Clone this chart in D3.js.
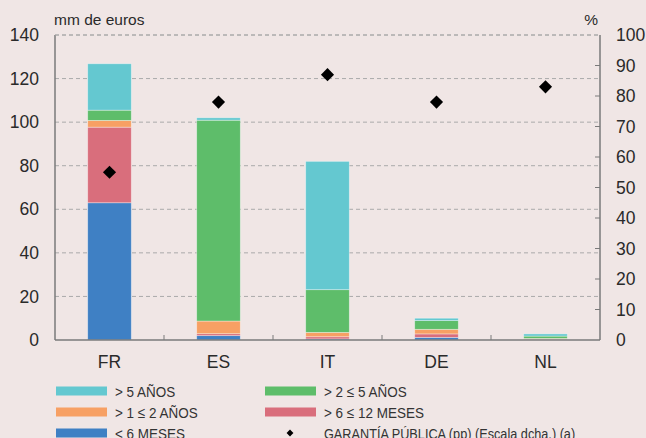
<!DOCTYPE html>
<html>
<head>
<meta charset="utf-8">
<script src="https://cdn.jsdelivr.net/npm/d3@7"></script>
<style>
	body { margin: 0; background: #f0e6e5; }
	svg { display: block; font-family: "Liberation Sans", Arial, sans-serif; }
</style>
</head>
<body>
<svg id="chart" width="646" height="438"></svg>
<script>
var countries = ["FR", "ES", "IT", "DE", "NL"];
// importes en mm de euros, de abajo a arriba
var menos6Meses = [63.0, 2.0, 0.5, 1.2, 0.2];
var de6a12Meses = [34.7, 0.9, 1.0, 1.6, 0.2];
var de1a2Anos = [3.1, 5.8, 2.0, 2.1, 0.3];
var de2a5Anos = [4.7, 92.2, 19.6, 4.0, 1.1];
var mas5Anos = [21.3, 1.1, 58.9, 1.1, 1.0];
// garantía pública, escala derecha (%)
var garantia = [55, 78, 87, 78, 83];

var leftTicks = [0, 20, 40, 60, 80, 100, 120, 140];
var rightTicks = [0, 10, 20, 30, 40, 50, 60, 70, 80, 90, 100];

var series = [
	{ key: "m6", name: "< 6 MESES", values: menos6Meses, color: "#3f80c4" },
	{ key: "m12", name: "> 6 \u2264 12 MESES", values: de6a12Meses, color: "#d96e7c" },
	{ key: "a2", name: "> 1 \u2264 2 A\u00d1OS", values: de1a2Anos, color: "#f7a064" },
	{ key: "a5", name: "> 2 \u2264 5 A\u00d1OS", values: de2a5Anos, color: "#5ebd6a" },
	{ key: "a5p", name: "> 5 A\u00d1OS", values: mas5Anos, color: "#64c8d0" }
];

var margin = {top: 35, right: 46, bottom: 98, left: 55},
	width = 646 - margin.left - margin.right,
	height = 438 - margin.top - margin.bottom;

var svg = d3.select("#chart");
var g = svg.append("g")
	.attr("transform", "translate(" + margin.left + "," + margin.top + ")");

var x = d3.scaleBand().domain(countries).range([0, width]).paddingInner(0.6).paddingOuter(0.3);
var xStep = d3.scaleBand().domain(countries).range([0, width]);
var y = d3.scaleLinear().domain([0, 140]).range([height, 0]);
var y2 = d3.scaleLinear().domain([0, 100]).range([height, 0]);

//  gridlines
g.selectAll(".grid")
	.data(leftTicks.filter(function(d) { return d > 0; }))
	.enter().append("line")
	.attr("class", "grid")
	.attr("x1", 0).attr("x2", width)
	.attr("y1", function(d) { return y(d); })
	.attr("y2", function(d) { return y(d); })
	.attr("stroke", "#aaa")
	.attr("stroke-width", 1)
	.attr("stroke-dasharray", "4,3");

//  stacked bars
var rows = countries.map(function(c, i) {
	var row = {country: c};
	series.forEach(function(s) { row[s.key] = s.values[i]; });
	return row;
});
var stacked = d3.stack().keys(series.map(function(s) { return s.key; }))(rows);

g.selectAll(".layer")
	.data(stacked)
	.enter().append("g")
	.attr("class", "layer")
	.attr("fill", function(d, i) { return series[i].color; })
	.selectAll("rect")
	.data(function(d) { return d; })
	.enter().append("rect")
	.attr("x", function(d) { return x(d.data.country); })
	.attr("width", x.bandwidth())
	.attr("y", function(d) { return y(d[1]); })
	.attr("height", function(d) { return y(d[0]) - y(d[1]); })
	.attr("stroke", "rgba(255,255,255,0.45)")
	.attr("stroke-width", 0.8);

//  frame: left, bottom, right solid; top dashed
g.append("line").attr("x1", 0).attr("x2", 0).attr("y1", 0).attr("y2", height)
	.attr("stroke", "#7a7a7a").attr("stroke-width", 1.5);
g.append("line").attr("x1", width).attr("x2", width).attr("y1", 0).attr("y2", height)
	.attr("stroke", "#7a7a7a").attr("stroke-width", 1.5);
g.append("line").attr("x1", 0).attr("x2", width).attr("y1", height).attr("y2", height)
	.attr("stroke", "#7a7a7a").attr("stroke-width", 1.5);
g.append("line").attr("x1", 0).attr("x2", width).attr("y1", 0).attr("y2", 0)
	.attr("stroke", "#aaa").attr("stroke-width", 1).attr("stroke-dasharray", "4,3");

//  category separators
g.selectAll(".sep")
	.data(countries.slice(1))
	.enter().append("line")
	.attr("class", "sep")
	.attr("x1", function(d) { return xStep(d); })
	.attr("x2", function(d) { return xStep(d); })
	.attr("y1", height).attr("y2", height - 5)
	.attr("stroke", "#7a7a7a").attr("stroke-width", 1);

//  right axis ticks (inward)
g.selectAll(".rtick")
	.data(rightTicks.slice(1, -1))
	.enter().append("line")
	.attr("class", "rtick")
	.attr("x1", width - 5).attr("x2", width)
	.attr("y1", function(d) { return y2(d); })
	.attr("y2", function(d) { return y2(d); })
	.attr("stroke", "#7a7a7a").attr("stroke-width", 1);

//  tick labels
g.selectAll(".ylab")
	.data(leftTicks)
	.enter().append("text")
	.attr("x", -16)
	.attr("y", function(d) { return y(d); })
	.attr("dy", "0.35em")
	.attr("text-anchor", "end")
	.attr("font-size", 17.5)
	.attr("fill", "#2a2a2a")
	.text(function(d) { return d; });

g.selectAll(".y2lab")
	.data(rightTicks)
	.enter().append("text")
	.attr("x", width + 16)
	.attr("y", function(d) { return y2(d); })
	.attr("dy", "0.35em")
	.attr("text-anchor", "start")
	.attr("font-size", 17.5)
	.attr("fill", "#2a2a2a")
	.text(function(d) { return d; });

g.selectAll(".xlab")
	.data(countries)
	.enter().append("text")
	.attr("x", function(d) { return xStep(d) + xStep.bandwidth() / 2; })
	.attr("y", height + 28)
	.attr("text-anchor", "middle")
	.attr("font-size", 17.5)
	.attr("fill", "#2a2a2a")
	.text(function(d) { return d; });

//  units
svg.append("text").attr("x", 54).attr("y", 25)
	.attr("font-size", 15.5).attr("fill", "#2a2a2a").text("mm de euros");
svg.append("text").attr("x", 598).attr("y", 25).attr("text-anchor", "end")
	.attr("font-size", 15.5).attr("fill", "#2a2a2a").text("%");

//  diamonds
var diamond = d3.symbol().type(d3.symbolDiamond2).size(110);
g.selectAll(".dot")
	.data(garantia)
	.enter().append("path")
	.attr("class", "dot")
	.attr("d", diamond)
	.attr("transform", function(d, i) {
		return "translate(" + (xStep(countries[i]) + xStep.bandwidth() / 2) + "," + y2(d) + ")";
	})
	.attr("fill", "#000");

//  legend
var legendItems = [
	{ s: series[4], col: 0, row: 0 },
	{ s: series[3], col: 1, row: 0 },
	{ s: series[2], col: 0, row: 1 },
	{ s: series[1], col: 1, row: 1 },
	{ s: series[0], col: 0, row: 2 }
];
var legend = svg.append("g").attr("class", "legend");
var lg = legend.selectAll(".item")
	.data(legendItems)
	.enter().append("g")
	.attr("class", "item")
	.attr("transform", function(d) {
		return "translate(" + (56 + d.col * 209) + "," + (391 + d.row * 21) + ")";
	});
lg.append("rect")
	.attr("x", 0).attr("y", -4.5)
	.attr("width", 51).attr("height", 9)
	.attr("fill", function(d) { return d.s.color; });
lg.append("text")
	.attr("transform", "translate(59,0) scale(0.87,1)")
	.attr("dy", "0.36em")
	.attr("font-size", 15.5)
	.attr("fill", "#333")
	.text(function(d) { return d.s.name; });

var dl = legend.append("g").attr("transform", "translate(265," + (391 + 2 * 21) + ")");
dl.append("path")
	.attr("d", d3.symbol().type(d3.symbolDiamond2).size(30))
	.attr("transform", "translate(25,0)")
	.attr("fill", "#000");
dl.append("text")
	.attr("transform", "translate(59,0) scale(0.82,1)")
	.attr("dy", "0.36em")
	.attr("font-size", 15.5)
	.attr("fill", "#333")
	.text("GARANT\u00cdA P\u00daBLICA (pp) (Escala dcha.) (a)");
</script>
</body>
</html>
